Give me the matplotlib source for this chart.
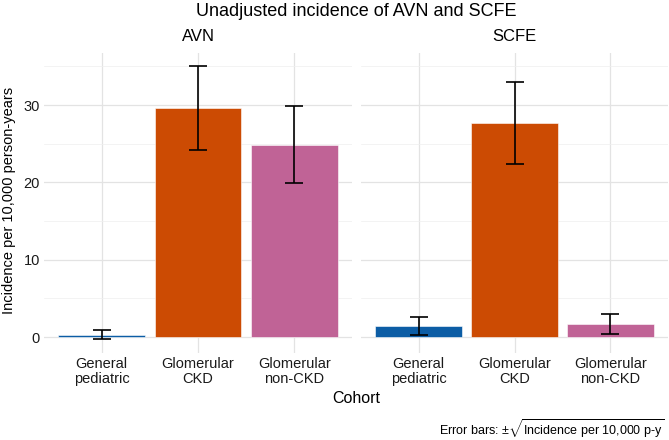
import numpy as np
import matplotlib
matplotlib.use("Agg")
import matplotlib.pyplot as plt

plt.rcParams['font.family'] = ['Liberation Sans', 'DejaVu Sans']
plt.rcParams['mathtext.fontset'] = 'custom'
plt.rcParams['mathtext.rm'] = 'Liberation Sans'
plt.rcParams['mathtext.it'] = 'Liberation Sans'

cohorts = ['General\npediatric', 'Glomerular\nCKD', 'Glomerular\nnon-CKD']
outcomes = ['AVN', 'SCFE']
avn_rate = [0.3, 29.6, 24.9]
scfe_rate = [1.4, 27.7, 1.7]
avn_err = [0.55, 5.44, 4.99]
scfe_err = [1.18, 5.26, 1.30]
colors = ['#0C5DA5', '#CC4B03', '#C06396']

W, H = 669, 440
fig = plt.figure(figsize=(W / 100, H / 100), dpi=100)

panels = [(44, 308, avn_rate, avn_err), (361, 307, scfe_rate, scfe_err)]
top, bottom = 52.5, 352.5
x = np.arange(len(cohorts))
for k, (left, width, vals, errs) in enumerate(panels):
    ax = fig.add_axes([left / W, (H - bottom) / H, width / W, (bottom - top) / H])
    ax.set_xlim(-0.6, 2.6)
    ax.set_ylim(-2.0, 36.8)
    ax.set_axisbelow(True)
    ax.set_yticks([0, 10, 20, 30])
    ax.set_yticks([5, 15, 25, 35], minor=True)
    ax.set_xticks(x)
    ax.grid(which='major', color='#E3E3E3', lw=0.9)
    ax.grid(which='minor', axis='y', color='#EFEFEF', lw=0.5)
    ax.bar(x, vals, width=0.9, color=colors, edgecolor='white', linewidth=0.4)
    ax.errorbar(x, vals, yerr=errs, fmt='none', ecolor='black', elinewidth=1.2,
                capsize=6.8, capthick=1.2)
    for s in ax.spines.values():
        s.set_visible(False)
    ax.tick_params(which='both', length=0, labelsize=10.5, colors='#1a1a1a', pad=3)
    ax.set_xticklabels(cohorts, linespacing=1.1)
    if k != 0:
        ax.set_yticklabels([])
    ax.set_title(outcomes[k], fontsize=12, pad=8)

fig.text(9 / W, 1 - 200 / H, 'Incidence per 10,000 person-years', rotation=90,
         ha='center', va='center', fontsize=10.5)
fig.text(356 / W, 1 - 12 / H, 'Unadjusted incidence of AVN and SCFE', ha='center', va='center', fontsize=13)
fig.text(356 / W, 1 - 398 / H, 'Cohort', ha='center', va='center', fontsize=11.5)
fig.text(664 / W, 1 - 435 / H, r'Error bars: $\pm\sqrt{\mathrm{Incidence\ per\ 10{,}000\ p}\text{-}\mathrm{y}}$',
         ha='right', va='baseline', fontsize=9)

fig.savefig('out.png', dpi=100)
